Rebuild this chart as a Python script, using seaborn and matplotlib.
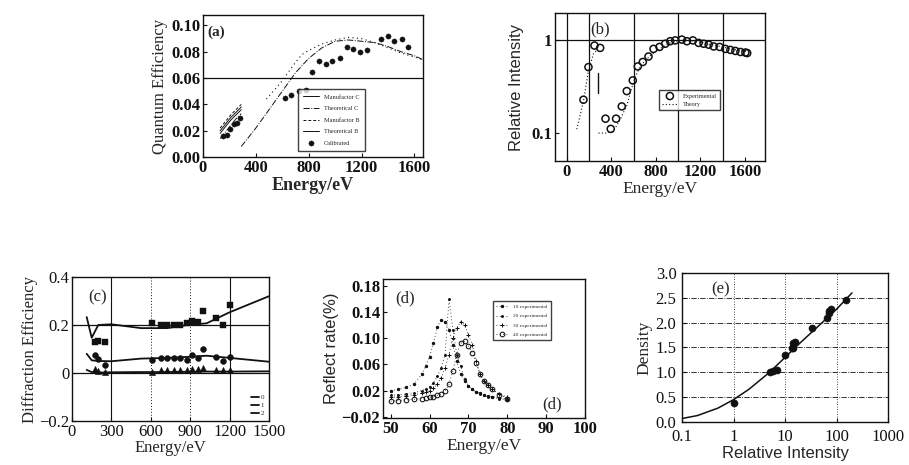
import numpy as np
import matplotlib
matplotlib.use('Agg')
import matplotlib.pyplot as plt
import seaborn as sns

sns.set_style('ticks')
plt.rcParams['font.family'] = ['Liberation Serif', 'DejaVu Serif']
plt.rcParams['xtick.direction'] = 'in'
plt.rcParams['ytick.direction'] = 'in'

# ── (a) quantum efficiency ────────────────────────────────────────────────
a_low_E = [130, 170, 210, 250, 290]
a_manu_c_low = [0.018, 0.023, 0.028, 0.032, 0.036]
a_theo_c_low = [0.014, 0.019, 0.024, 0.029, 0.033]
a_manu_b_low = [0.022, 0.027, 0.032, 0.036, 0.040]
a_theo_b_low = [0.020, 0.025, 0.030, 0.034, 0.038]
a_high_E = [290, 400, 500, 600, 700, 800, 900, 1000, 1100, 1200, 1300, 1400, 1500, 1600, 1665]
a_theo_c_high = [0.008, 0.022, 0.036, 0.050, 0.064, 0.075, 0.083, 0.088, 0.089, 0.088, 0.087,
                 0.084, 0.080, 0.077, 0.074]
a_dot_E = [480, 550, 600, 650, 700, 750, 800, 900, 1000, 1100, 1200, 1300, 1400, 1500, 1600, 1665]
a_manu_b_high = [0.044, 0.052, 0.058, 0.065, 0.072, 0.078, 0.081, 0.086, 0.089, 0.091, 0.090,
                 0.087, 0.083, 0.079, 0.076, 0.074]
a_cal_E = [152, 182, 208, 238, 258, 278, 618, 668, 727, 777, 828, 878, 929, 980, 1035, 1089,
           1139, 1190, 1240, 1347, 1397, 1448, 1504, 1554]
a_cal_QE = [0.016, 0.017, 0.021, 0.025, 0.026, 0.030, 0.045, 0.047, 0.050, 0.051, 0.065, 0.073,
            0.071, 0.073, 0.075, 0.084, 0.082, 0.080, 0.081, 0.090, 0.092, 0.088, 0.090, 0.084]

# ── (b) relative intensity ────────────────────────────────────────────────
b_exp_E = [150, 195, 249, 300, 348, 395, 443, 494, 539, 593, 638, 683, 734, 779, 833, 884, 929,
           974, 1034, 1079, 1133, 1184, 1229, 1274, 1319, 1373, 1424, 1469, 1514, 1559, 1604, 1620]
b_exp_I = [0.229, 0.515, 0.88, 0.83, 0.143, 0.111, 0.143, 0.194, 0.284, 0.37, 0.524, 0.585, 0.67,
           0.81, 0.85, 0.92, 0.98, 1.0, 1.02, 0.98, 1.0, 0.94, 0.92, 0.90, 0.86, 0.85, 0.81, 0.79,
           0.77, 0.75, 0.74, 0.73]
b_th1_E = [90, 150, 195, 240, 280]
b_th1_I = [0.11, 0.22, 0.47, 0.72, 0.80]
b_edge_E = [280, 280]
b_edge_I = [0.27, 0.44]
b_th2_E = [285, 350, 420, 480, 540, 600, 650, 700, 760, 840, 920, 1000, 1100, 1200, 1300, 1400,
           1500, 1600, 1650]
b_th2_I = [0.10, 0.10, 0.105, 0.14, 0.20, 0.36, 0.50, 0.60, 0.70, 0.82, 0.93, 1.0, 1.0, 0.96,
           0.90, 0.85, 0.80, 0.76, 0.74]

# ── (c) diffraction efficiency ────────────────────────────────────────────
c_line_E = [112, 150, 200, 300, 525, 725, 875, 1025, 1200, 1500]
c_order0 = [0.233, 0.147, 0.20, 0.203, 0.187, 0.187, 0.20, 0.207, 0.253, 0.32]
c_order1 = [0.080, 0.053, 0.050, 0.049, 0.060, 0.063, 0.067, 0.072, 0.063, 0.047]
c_order2 = [0.013, 0.004, 0.002, 0.003, 0.004, 0.004, 0.005, 0.006, 0.006, 0.007]
c_dot_E = [175, 200, 250, 612, 675, 725, 775, 825, 875, 912, 962, 1000, 1100, 1150, 1200]
c_dot0 = [0.13, 0.133, 0.128, 0.21, 0.20, 0.20, 0.20, 0.20, 0.21, 0.216, 0.213, 0.259, 0.229,
          0.20, 0.285]
c_dot1 = [0.073, 0.06, 0.033, 0.053, 0.064, 0.064, 0.064, 0.064, 0.056, 0.073, 0.064, 0.10,
          0.067, 0.051, 0.067]
c_dot2 = [0.016, 0.010, 0.003, 0.006, 0.013, 0.013, 0.013, 0.013, 0.013, 0.016, 0.016, 0.020,
          0.013, 0.013, 0.013]

# ── (d) reflectivity ──────────────────────────────────────────────────────
d_E = [50, 52, 54, 56, 58, 59, 60, 61, 62, 63, 64, 65, 66, 67, 68, 69, 70, 71, 72, 73, 74, 75,
       76, 78, 80]
d_s10 = [0.020, 0.022, 0.025, 0.030, 0.045, 0.058, 0.072, 0.092, 0.117, 0.128, 0.124, 0.112,
         0.090, 0.065, 0.045, 0.035, 0.027, 0.022, 0.018, 0.016, 0.014, 0.012, 0.011, 0.009, 0.007]
d_s20 = [0.013, 0.014, 0.015, 0.017, 0.020, 0.023, 0.026, 0.032, 0.042, 0.055, 0.075, 0.160,
         0.113, 0.075, 0.058, 0.038, 0.027, 0.022, 0.018, 0.015, 0.013, 0.011, 0.010, 0.008, 0.006]
d_s30 = [0.010, 0.011, 0.012, 0.014, 0.016, 0.018, 0.020, 0.024, 0.030, 0.040, 0.055, 0.075,
         0.100, 0.115, 0.125, 0.120, 0.105, 0.090, 0.065, 0.045, 0.035, 0.028, 0.022, 0.015, 0.010]
d_s40 = [0.004, 0.005, 0.006, 0.007, 0.008, 0.009, 0.010, 0.011, 0.013, 0.015, 0.020, 0.030,
         0.050, 0.075, 0.092, 0.095, 0.088, 0.078, 0.062, 0.045, 0.035, 0.028, 0.022, 0.014, 0.008]
d_labels = ['10 experimental', '20 experimental', '30 experimental', '40 experimental']

# ── (e) density curve ─────────────────────────────────────────────────────
e_fit_I = [0.1, 0.2, 0.5, 1, 2, 5, 10, 20, 50, 100, 200]
e_fit_D = [0.07, 0.13, 0.28, 0.45, 0.66, 1.0, 1.30, 1.60, 1.98, 2.27, 2.60]
e_pts_I = [1, 5, 5.9, 6.9, 10, 13.4, 14.5, 15.6, 14, 32.7, 65.5, 70.5, 79.8, 72, 155]
e_pts_D = [0.375, 1.01, 1.02, 1.04, 1.34, 1.49, 1.59, 1.62, 1.48, 1.90, 2.10, 2.20, 2.27, 2.24,
           2.46]

fig = plt.figure(figsize=(9.09, 4.65), dpi=100)
ax_a = fig.add_axes([0.2233, 0.6624, 0.242, 0.3054])
ax_b = fig.add_axes([0.6106, 0.6538, 0.231, 0.318])
ax_c = fig.add_axes([0.0792, 0.0946, 0.2167, 0.3097])
ax_d = fig.add_axes([0.4213, 0.1011, 0.2222, 0.299])
ax_e = fig.add_axes([0.7503, 0.0925, 0.2266, 0.3204])

ink = '#111111'
SANS = ['Liberation Sans', 'DejaVu Sans']


def style_ticks(ax, size=12, weight='bold'):
    ax.tick_params(labelsize=size, colors=ink, length=3, width=0.8, pad=2)
    for lab in ax.get_xticklabels() + ax.get_yticklabels():
        lab.set_fontweight(weight)
    for s in ax.spines.values():
        s.set_linewidth(1.0)
        s.set_color(ink)


# (a)
sns.lineplot(x=a_low_E, y=a_manu_c_low, ax=ax_a, color=ink, lw=0.7, ls='-', label='Manufactor C')
sns.lineplot(x=a_low_E, y=a_theo_c_low, ax=ax_a, color=ink, lw=0.7, ls='-.', label='Theoretical C')
sns.lineplot(x=a_low_E, y=a_manu_b_low, ax=ax_a, color=ink, lw=0.7, ls=(0, (3, 2)), label='Manufactor B')
sns.lineplot(x=a_low_E, y=a_theo_b_low, ax=ax_a, color=ink, lw=0.7, ls='-', label='Theoretical B')
sns.lineplot(x=a_high_E, y=a_theo_c_high, ax=ax_a, color=ink, lw=0.7, ls='-.')
sns.lineplot(x=a_dot_E, y=a_manu_b_high, ax=ax_a, color=ink, lw=0.8, ls=(0, (1, 3)))
sns.scatterplot(x=a_cal_E, y=a_cal_QE, ax=ax_a, color=ink, s=14, edgecolor=ink, label='Calibrated')
ax_a.axhline(0.06, color=ink, lw=0.9)
ax_a.set_xlim(0, 1665)
ax_a.set_ylim(0, 0.108)
ax_a.set_xticks([0, 400, 800, 1200, 1600])
ax_a.set_yticks([0, 0.02, 0.04, 0.06, 0.08, 0.10])
ax_a.set_yticklabels(['0.00', '0.02', '0.04', '0.06', '0.08', '0.10'])
ax_a.set_xlabel('Energy/eV', fontsize=13, fontweight='bold', labelpad=1)
ax_a.set_ylabel('Quantum Efficiency', fontsize=12, labelpad=2)
ax_a.text(0.02, 0.85, '(a)', transform=ax_a.transAxes, fontsize=11, fontweight='bold')
ax_a.legend(loc='lower left', bbox_to_anchor=(0.42, 0.02), fontsize=4.5, frameon=True,
            fancybox=False, edgecolor=ink, handlelength=2.5, borderpad=0.8, labelspacing=1.0)
style_ticks(ax_a)

# (b)
sns.scatterplot(x=b_exp_E, y=b_exp_I, ax=ax_b, marker='o', s=26, facecolor='none', edgecolor=ink,
                linewidth=1.1, label='Experimental')
sns.lineplot(x=b_th1_E, y=b_th1_I, ax=ax_b, color=ink, lw=0.8, ls=(0, (1, 2)), label='Theory')
sns.lineplot(x=b_edge_E, y=b_edge_I, ax=ax_b, color=ink, lw=1.0, estimator=None, sort=False)
sns.lineplot(x=b_th2_E, y=b_th2_I, ax=ax_b, color=ink, lw=0.8, ls=(0, (1, 2)))
for xv in [0, 200, 600, 1000, 1400]:
    ax_b.axvline(xv, color=ink, lw=0.9)
ax_b.axhline(1, color=ink, lw=0.9)
ax_b.set_yscale('log')
ax_b.set_xlim(-105, 1780)
ax_b.set_ylim(0.05, 1.97)
ax_b.set_xticks([0, 400, 800, 1200, 1600])
ax_b.set_yticks([0.1, 1])
ax_b.set_yticklabels(['0.1', '1'])
ax_b.yaxis.set_minor_locator(matplotlib.ticker.NullLocator())
ax_b.set_xlabel('Energy/eV', fontsize=12.5, labelpad=1)
ax_b.set_ylabel('Relative Intensity', fontsize=12, family=SANS, labelpad=5)
ax_b.text(0.17, 0.86, '(b)', transform=ax_b.transAxes, fontsize=12)
ax_b.legend(loc='upper left', bbox_to_anchor=(0.48, 0.5), fontsize=4.5, frameon=True,
            fancybox=False, edgecolor=ink, handlelength=2.5, borderpad=0.5, labelspacing=0.5)
style_ticks(ax_b)

# (c)
sns.lineplot(x=c_line_E, y=c_order0, ax=ax_c, color=ink, lw=1.3, label='0')
sns.lineplot(x=c_line_E, y=c_order1, ax=ax_c, color=ink, lw=1.3, label='1')
sns.lineplot(x=c_line_E, y=c_order2, ax=ax_c, color=ink, lw=1.3, label='2')
sns.scatterplot(x=c_dot_E, y=c_dot0, ax=ax_c, color=ink, marker='s', s=14, edgecolor=ink)
sns.scatterplot(x=c_dot_E, y=c_dot1, ax=ax_c, color=ink, marker='o', s=18, edgecolor=ink)
sns.scatterplot(x=c_dot_E, y=c_dot2, ax=ax_c, color=ink, marker='^', s=20, edgecolor=ink)
for xv in [300, 1200]:
    ax_c.axvline(xv, color=ink, lw=0.8)
for xv in [600, 900]:
    ax_c.axvline(xv, color=ink, lw=0.7, ls=(0, (1, 2)))
for yv in [0, 0.2]:
    ax_c.axhline(yv, color=ink, lw=0.9)
ax_c.set_xlim(0, 1500)
ax_c.set_ylim(-0.2, 0.4)
ax_c.set_xticks([0, 300, 600, 900, 1200, 1500])
ax_c.set_yticks([-0.2, 0, 0.2, 0.4])
ax_c.set_yticklabels(['\u22120.2', '0', '0.2', '0.4'])
ax_c.set_xlabel('Energy/eV', fontsize=12, labelpad=0)
ax_c.set_ylabel('Diffraction Efficiency', fontsize=12, labelpad=1)
ax_c.text(0.08, 0.83, '(c)', transform=ax_c.transAxes, fontsize=12)
ax_c.legend(loc='lower right', fontsize=5, frameon=False, handlelength=1.2,
            borderpad=0.2, labelspacing=0.3, handletextpad=0.2)
style_ticks(ax_c, size=12, weight='normal')

# (d)
d_styles = [('.', 10, 'full'), ('.', 8, 'full'), ('+', 10, 'full'), ('o', 10, 'none')]
for vals, lab, (mk, sz, fill) in zip([d_s10, d_s20, d_s30, d_s40], d_labels, d_styles):
    sns.lineplot(x=d_E, y=vals, ax=ax_d, color=ink, lw=0.6, ls=(0, (1, 3)), marker=mk,
                 markersize=sz / 3, markerfacecolor=ink if fill == 'full' else 'none',
                 markeredgecolor=ink, label=lab)
ax_d.set_xlim(48, 100)
ax_d.set_ylim(-0.0215, 0.19)
ax_d.set_xticks([50, 60, 70, 80, 90, 100])
ax_d.set_yticks([-0.02, 0.02, 0.06, 0.10, 0.14, 0.18])
ax_d.set_yticklabels(['\u22120.02', '0.02', '0.06', '0.10', '0.14', '0.18'])
ax_d.set_xlabel('Energy/eV', fontsize=12.5, labelpad=1)
ax_d.set_ylabel('Reflect rate(%)', fontsize=12, family=SANS, labelpad=2)
ax_d.text(0.06, 0.83, '(d)', transform=ax_d.transAxes, fontsize=12)
ax_d.text(0.79, 0.07, '(d)', transform=ax_d.transAxes, fontsize=12)
ax_d.legend(loc='upper left', bbox_to_anchor=(0.53, 0.86), fontsize=3.8, frameon=True,
            fancybox=False, edgecolor=ink, handlelength=2.5, borderpad=0.6, labelspacing=0.9)
style_ticks(ax_d)

# (e)
sns.lineplot(x=e_fit_I, y=e_fit_D, ax=ax_e, color=ink, lw=1.1)
sns.scatterplot(x=e_pts_I, y=e_pts_D, ax=ax_e, color=ink, s=26, edgecolor=ink)
ax_e.set_xscale('log')
ax_e.set_xlim(0.1, 1000)
ax_e.set_ylim(0, 3.0)
ax_e.set_xticks([0.1, 1, 10, 100, 1000])
ax_e.set_xticklabels(['0.1', '1', '10', '100', '1000'])
ax_e.xaxis.set_minor_locator(matplotlib.ticker.NullLocator())
ax_e.set_yticks([0, 0.5, 1.0, 1.5, 2.0, 2.5, 3.0])
ax_e.set_yticklabels(['0.0', '0.5', '1.0', '1.5', '2.0', '2.5', '3.0'])
for yv in [0.5, 1.0, 1.5, 2.0, 2.5]:
    ax_e.axhline(yv, color=ink, lw=0.6, ls='-.')
for xv in [1, 10, 100]:
    ax_e.axvline(xv, color=ink, lw=0.6, ls=(0, (1, 2)))
ax_e.set_xlabel('Relative Intensity', fontsize=12, family=SANS, labelpad=1)
ax_e.set_ylabel('Density', fontsize=12.5, labelpad=2)
ax_e.text(0.14, 0.86, '(e)', transform=ax_e.transAxes, fontsize=12)
style_ticks(ax_e, size=12, weight='normal')
ax_e.tick_params(axis='x', pad=5)
ax_e.tick_params(axis='y', pad=4)

fig.savefig('out.png', dpi=100)
